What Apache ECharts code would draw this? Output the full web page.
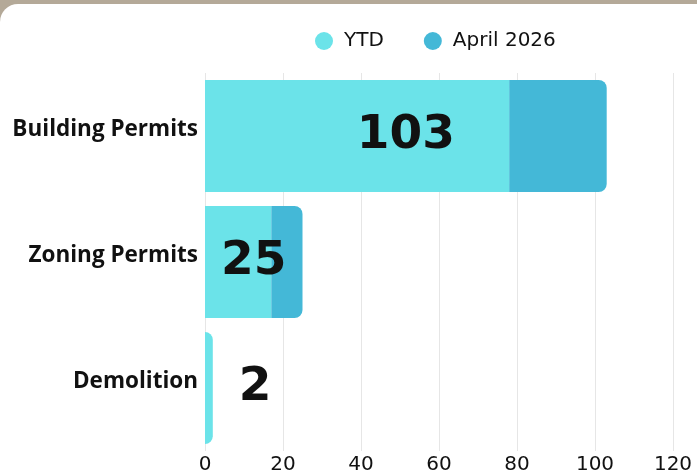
<!DOCTYPE html>
<html>
<head>
<meta charset="utf-8">
<script src="https://cdn.jsdelivr.net/npm/echarts@6/dist/echarts.min.js"></script>
<style>
  html, body { margin: 0; padding: 0; width: 697px; height: 475px; background: #b4a998; overflow: hidden; }
  #card { position: absolute; left: 0; top: 4px; width: 697px; height: 471px; background: #ffffff; border-top-left-radius: 18px; overflow: hidden; }
  #chart { width: 697px; height: 471px; }
</style>
</head>
<body>
<div id="card"><div id="chart"></div></div>
<script>
const categories = ['Building Permits', 'Zoning Permits', 'Demolition'];
const ytdValues = [78, 17, 2];
const aprilValues = [25, 8, 0];
const totalLabels = [103, 25, 2];
const xTicks = [0, 20, 40, 60, 80, 100, 120];

const chart = echarts.init(document.getElementById('chart'), null, { renderer: 'canvas' });

const lastIdx = categories.map((c, i) => aprilValues[i] > 0 ? 'april' : 'ytd');
const ytdData = ytdValues.map((v, i) => ({
  value: v,
  itemStyle: { borderRadius: lastIdx[i] === 'ytd' ? [0, 8, 8, 0] : 0 }
}));
const aprilData = aprilValues.map((v, i) => ({
  value: v,
  itemStyle: { borderRadius: [0, 8, 8, 0] }
}));
const labelData = totalLabels.map((v, i) => {
  const small = v < 10;
  return {
    value: v,
    label: small ? { position: 'right', distance: 26 } : { position: 'inside' }
  };
});

const option = {
  animation: false,
  backgroundColor: 'transparent',
  legend: {
    data: ['YTD', 'April 2026'],
    left: 310,
    top: 22,
    icon: 'circle',
    itemWidth: 18,
    itemHeight: 18,
    itemGap: 40,
    textStyle: { fontFamily: 'DejaVu Sans', fontSize: 20, color: '#111', padding: [0, 0, 0, 6] }
  },
  grid: { left: 205, right: 24, top: 69, bottom: 24, containLabel: false },
  xAxis: {
    type: 'value',
    min: 0,
    max: 120,
    interval: 20,
    axisLine: { show: false },
    axisTick: { show: false },
    splitLine: { show: true, lineStyle: { color: '#e6e6e6', width: 1 } },
    axisLabel: {
      margin: 4,
      fontFamily: 'DejaVu Sans',
      fontSize: 20,
      color: '#111',
      formatter: v => xTicks.includes(v) ? String(v) : ''
    }
  },
  yAxis: {
    type: 'category',
    data: categories,
    inverse: true,
    axisLine: { show: false },
    axisTick: { show: false },
    axisLabel: {
      margin: 7,
      fontFamily: 'Open Sans',
      fontWeight: 700,
      fontSize: 22.5,
      color: '#111',
      verticalAlign: 'bottom',
      lineHeight: 12
    }
  },
  series: [
    {
      name: 'YTD',
      type: 'bar',
      stack: 'a',
      barCategoryGap: '11%',
      itemStyle: { color: '#6be3e9' },
      data: ytdData
    },
    {
      name: 'April 2026',
      type: 'bar',
      stack: 'a',
      barCategoryGap: '11%',
      itemStyle: { color: '#44b8d7' },
      data: aprilData
    },
    {
      name: 'labels',
      type: 'bar',
      barGap: '-100%',
      barCategoryGap: '11%',
      silent: true,
      itemStyle: { color: 'rgba(0,0,0,0)' },
      label: {
        show: true,
        fontFamily: 'DejaVu Sans',
        fontWeight: 'bold',
        fontSize: 47,
        color: '#111',
        formatter: p => String(p.value)
      },
      z: 5,
      data: labelData
    }
  ]
};
chart.setOption(option);
</script>
</body>
</html>
